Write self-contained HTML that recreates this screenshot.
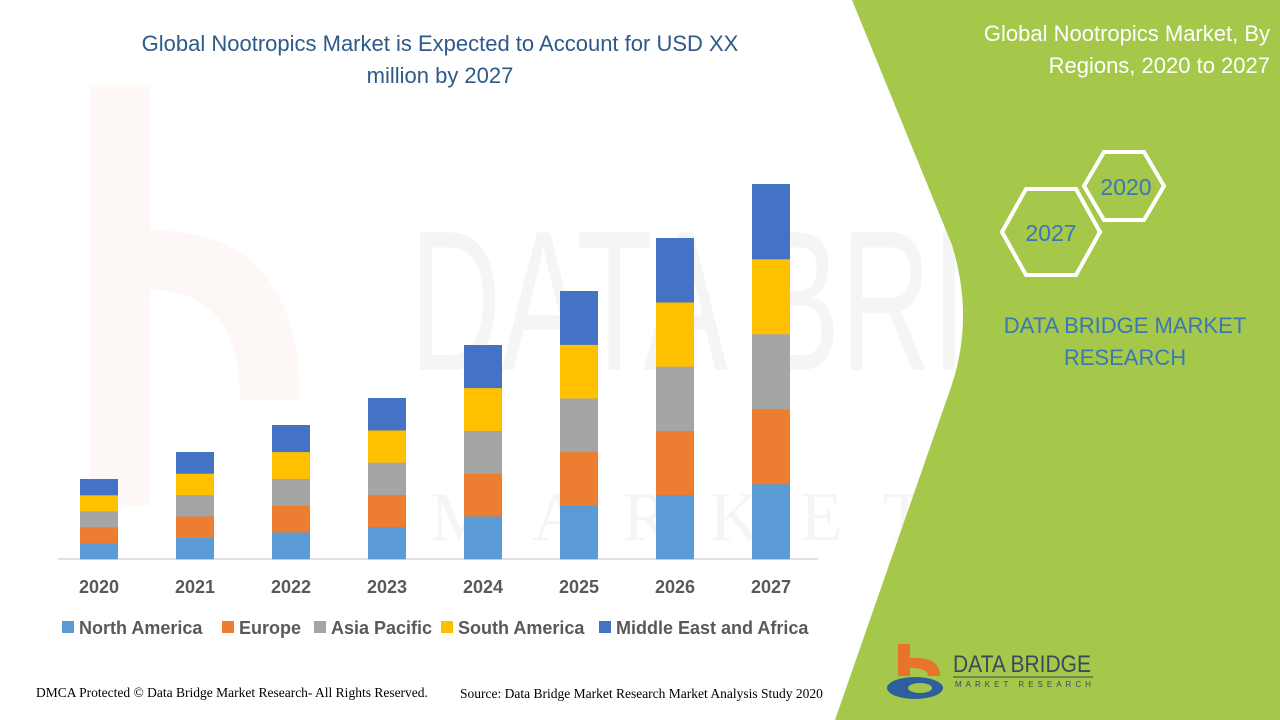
<!DOCTYPE html>
<html><head><meta charset="utf-8"><style>
body{margin:0;width:1280px;height:720px;overflow:hidden;background:#fff;font-family:"Liberation Sans",sans-serif;position:relative}
.t{position:absolute;text-align:center}
</style></head><body>
<svg width="1280" height="720" style="position:absolute;left:0;top:0">
  <g opacity="0.045">
    <rect x="90" y="85" width="60" height="420" fill="#e8632a"/>
    <path d="M150 230 Q300 230 300 400 L240 400 Q240 290 150 290Z" fill="#e8632a"/>
    <text x="410" y="370" font-size="200" fill="#333" font-family="Liberation Sans" textLength="830" lengthAdjust="spacingAndGlyphs">DATA BRIDGE</text>
    <text x="430" y="540" font-size="70" fill="#333" font-family="Liberation Serif" letter-spacing="40">MARKET RESEARCH</text>
  </g>
  <path d="M852 0 L1280 0 L1280 720 L835 720 L950 390 Q975 320 952 245 Z" fill="#a5c84a"/>
  <line x1="58" y1="559" x2="818" y2="559" stroke="#d9d9d9" stroke-width="1.5"/>
  <g id="bars"></g>
  <polygon points="1104,152 1144,152 1164,186 1144,220 1104,220 1084,186" fill="none" stroke="#fff" stroke-width="4"/>
  <polygon points="1026,189 1076,189 1100,232 1076,275 1026,275 1002,232" fill="none" stroke="#fff" stroke-width="4"/>
  <text x="1126" y="195" font-size="23" fill="#3a78b5" text-anchor="middle" font-family="Liberation Sans">2020</text>
  <text x="1051" y="241" font-size="23" fill="#3a78b5" text-anchor="middle" font-family="Liberation Sans">2027</text>
  <rect x="898" y="644" width="12" height="32" fill="#e8742a"/>
  <path d="M910 658 Q940 656 940 676 L928 676 Q928 668 910 668Z" fill="#e8742a"/>
  <ellipse cx="915" cy="688" rx="28" ry="11" fill="#2d5e9e"/>
  <ellipse cx="920" cy="688" rx="12" ry="5" fill="#a5c84a"/>
  <text x="953" y="672" font-size="24" fill="#3b4a5a" font-family="Liberation Sans" textLength="138" lengthAdjust="spacingAndGlyphs">DATA BRIDGE</text>
  <line x1="953" y1="677" x2="1093" y2="677" stroke="#3b4a5a" stroke-width="1"/>
  <text x="955" y="687" font-size="8" fill="#3b4a5a" letter-spacing="4">MARKET  RESEARCH</text>
</svg>
<script>
var tops=[479,452,425,398,345,291,238,184],cols=["#5b9bd5","#ed7d31","#a5a5a5","#ffc000","#4472c4"],s="";
for(var i=0;i<8;i++){var x=80+96*i,h=(559-tops[i])/5;for(var j=0;j<5;j++){s+='<rect x="'+x+'" y="'+(559-h*(j+1))+'" width="38" height="'+(h+0.3)+'" fill="'+cols[j]+'"/>';}
s+='<text x="'+(x+19)+'" y="593" font-size="18" font-weight="bold" fill="#595959" text-anchor="middle" font-family="Liberation Sans">'+(2020+i)+'</text>';}
var L=[["North America",62],["Europe",222],["Asia Pacific",314],["South America",441],["Middle East and Africa",599]];
for(var k=0;k<5;k++){s+='<rect x="'+L[k][1]+'" y="621" width="12" height="12" fill="'+cols[k]+'"/><text x="'+(L[k][1]+17)+'" y="634" font-size="18" font-weight="bold" fill="#595959" font-family="Liberation Sans">'+L[k][0]+'</text>';}
document.getElementById("bars").innerHTML=s;
</script>
<div class="t" style="left:80px;top:28px;width:720px;font-size:22px;line-height:32px;color:#2e5a8a">Global Nootropics Market is Expected to Account for USD XX<br>million by 2027</div>
<div class="t" style="left:900px;top:18px;width:370px;text-align:right;font-size:22px;line-height:32px;color:#fff">Global Nootropics Market, By<br>Regions, 2020 to 2027</div>
<div class="t" style="left:980px;top:310px;width:290px;font-size:22px;line-height:32px;color:#3a78b5">DATA BRIDGE MARKET<br>RESEARCH</div>
<div style="position:absolute;left:36px;top:685px;font-family:'Liberation Serif',serif;font-size:13.5px;color:#000">DMCA Protected © Data Bridge Market Research- All Rights Reserved.</div>
<div style="position:absolute;left:460px;top:686px;font-family:'Liberation Serif',serif;font-size:13.5px;color:#000">Source: Data Bridge Market Research Market Analysis Study 2020</div>
</body></html>
